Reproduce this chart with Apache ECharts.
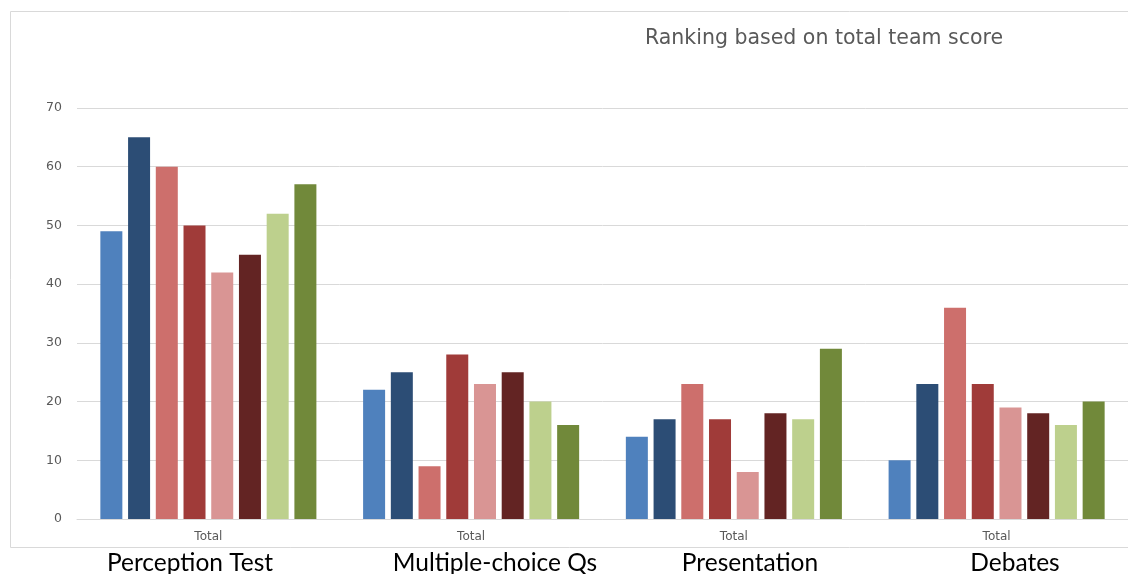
<!DOCTYPE html>
<html>
<head>
<meta charset="utf-8">
<script src="https://cdn.jsdelivr.net/npm/echarts@6/dist/echarts.min.js"></script>
<style>
html,body{margin:0;padding:0;background:#fff;}
#chart{width:1128px;height:574px;}
</style>
</head>
<body>
<div id="chart"></div>
<script>
const categories = ['Perception Test', 'Multiple-choice Qs', 'Presentation', 'Debates'];
const axisTickLabels = ['Total', 'Total', 'Total', 'Total'];
const team1 = [49, 22, 14, 10];
const team2 = [65, 25, 17, 23];
const team3 = [60, 9, 23, 36];
const team4 = [50, 28, 17, 23];
const team5 = [42, 23, 8, 19];
const team6 = [45, 25, 18, 18];
const team7 = [52, 20, 17, 16];
const team8 = [57, 16, 29, 20];
const seriesList = [team1, team2, team3, team4, team5, team6, team7, team8];
const colors = ['#4F81BD', '#2C4D75', '#CD6F6C', '#A03B39', '#D99594', '#632423', '#BDD08D', '#71893A'];

// hand-placed caption centres under each group (as in the reference)
const captionX = [190, 495, 750, 1015];

const chart = echarts.init(document.getElementById('chart'), null, {renderer: 'canvas'});
chart.setOption({
  animation: false,
  title: {
    text: 'Ranking based on total team score',
    left: 640, top: 23,
    textStyle: {fontFamily: 'DejaVu Sans', fontSize: 20.5, fontWeight: 'normal', color: '#595959'}
  },
  graphic: [{
    type: 'rect', silent: true, z: -1,
    shape: {x: 10.5, y: 11.5, width: 1140, height: 536},
    style: {fill: 'none', stroke: '#D9D9D9', lineWidth: 1}
  }].concat(categories.map((c, i) => ({
    type: 'text', silent: true,
    x: captionX[i], y: 563,
    style: {text: c, fontFamily: 'Lato', fontSize: 24.5, fill: '#000',
            textAlign: 'center', textVerticalAlign: 'middle'}
  }))),
  grid: {left: 77, top: 108, width: 1052, height: 411},
  xAxis: {
    type: 'category', data: axisTickLabels,
    axisLine: {lineStyle: {color: '#D9D9D9'}},
    axisTick: {show: false},
    axisLabel: {margin: 12, fontSize: 12, color: '#595959', fontFamily: 'DejaVu Sans'}
  },
  yAxis: {
    type: 'value', min: 0, max: 70, interval: 10,
    axisLine: {show: false}, axisTick: {show: false},
    splitLine: {lineStyle: {color: '#D9D9D9'}},
    axisLabel: {margin: 15, fontSize: 12.5, color: '#595959', fontFamily: 'DejaVu Sans'}
  },
  series: seriesList.map((d, i) => ({
    type: 'bar', data: d, barWidth: 22, barGap: '26%',
    itemStyle: {color: colors[i]}
  }))
});
</script>
</body>
</html>
